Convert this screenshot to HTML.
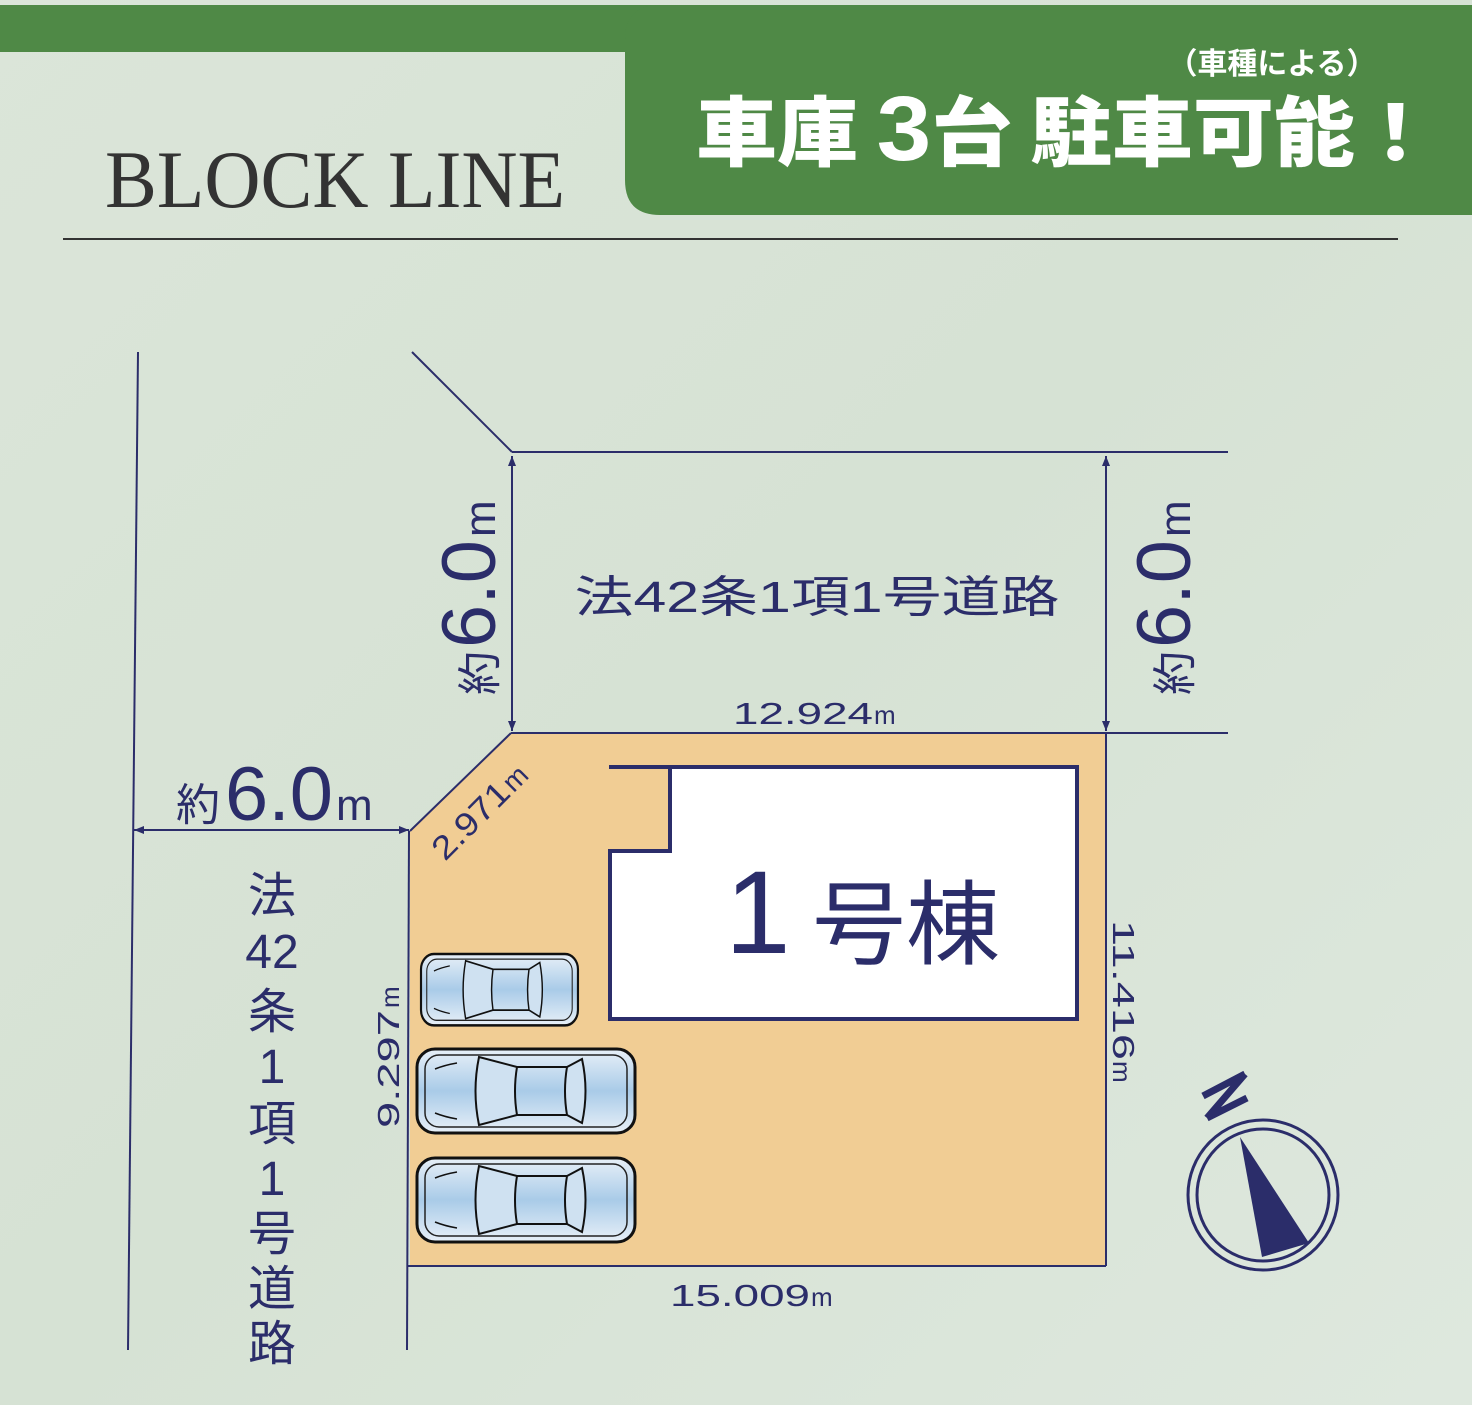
<!DOCTYPE html>
<html><head><meta charset="utf-8"><style>
html,body{margin:0;padding:0;}
body{width:1472px;height:1405px;overflow:hidden;background:#dde6dc;}
svg{display:block}
.n{fill:#2b2d6a;font-family:"Liberation Sans","Noto Sans CJK JP",sans-serif;}
</style></head><body>
<svg width="1472" height="1405" viewBox="0 0 1472 1405" xmlns="http://www.w3.org/2000/svg">
<defs>
<linearGradient id="bg" x1="0" y1="0" x2="1" y2="1">
<stop offset="0" stop-color="#dbe5d9"/><stop offset="0.5" stop-color="#d6e2d4"/><stop offset="1" stop-color="#dee8de"/>
</linearGradient>
<linearGradient id="car" x1="0" y1="0" x2="0" y2="1">
<stop offset="0" stop-color="#e8f0f8"/><stop offset="0.5" stop-color="#a9cbe8"/><stop offset="1" stop-color="#e8f0f8"/>
</linearGradient>
<marker id="ar" viewBox="0 0 10 10" refX="10" refY="5" markerWidth="10" markerHeight="10" orient="auto-start-reverse" markerUnits="userSpaceOnUse">
<path d="M0,1 L10,5 L0,9 Z" fill="#2b2d6a"/>
</marker>
<g id="carS">
<rect x="0" y="0" width="218" height="84" rx="18" fill="url(#car)" stroke="#111" stroke-width="3"/>
<rect x="8" y="6" width="202" height="72" rx="14" fill="none" stroke="#222" stroke-width="1.5"/>
<path d="M62,8 Q55,42 62,76 L100,66 Q96,42 100,18 Z" fill="#cfe1f1" stroke="#111" stroke-width="2"/>
<path d="M165,10 Q172,42 165,74 L150,66 Q146,42 150,18 Z" fill="#cfe1f1" stroke="#111" stroke-width="2"/>
<path d="M100,18 L150,18 M100,66 L150,66" stroke="#111" stroke-width="2"/>
<path d="M18,20 Q28,16 40,14 M18,64 Q28,68 40,70" stroke="#111" stroke-width="1.5" fill="none"/>
</g>
</defs>
<rect width="1472" height="1405" fill="url(#bg)"/>
<rect x="0" y="5" width="1472" height="47" fill="#4f8946"/>
<path d="M660,5 H1472 V215 H660 Q625,215 625,180 V40 Q625,5 660,5 Z" fill="#4f8946"/>
<text x="1272" y="74" fill="#fff" font-family="'Noto Sans CJK JP',sans-serif" font-weight="bold" font-size="30" text-anchor="middle">（車種による）</text>
<text x="1066" y="160" fill="#fff" font-family="'Noto Sans CJK JP',sans-serif" font-weight="900" font-size="76" text-anchor="middle" textLength="740" lengthAdjust="spacingAndGlyphs">車庫 <tspan font-family="'Liberation Sans',sans-serif" font-size="92">3</tspan>台 駐車可能！</text>
<text x="105" y="207" fill="#333" font-family="'Liberation Serif',serif" font-size="82" textLength="460" lengthAdjust="spacingAndGlyphs">BLOCK LINE</text>
<rect x="63" y="238" width="1335" height="2" fill="#333"/>

<path d="M511,733 H1106 V1266 H410 V831 Z" fill="#f1cd94"/>
<g stroke="#2b2d6a" stroke-width="2" fill="none">
<line x1="138" y1="352" x2="128" y2="1350"/>
<line x1="412" y1="352" x2="512" y2="452"/>
<line x1="512" y1="452" x2="1228" y2="452"/>
<line x1="511" y1="733" x2="1228" y2="733"/>
<line x1="511" y1="733" x2="410" y2="831"/>
<line x1="409" y1="831" x2="407" y2="1350"/>
<line x1="407" y1="1266" x2="1106" y2="1266"/>
<line x1="1106" y1="733" x2="1106" y2="1266"/>
<line x1="512" y1="456" x2="512" y2="731" marker-start="url(#ar)" marker-end="url(#ar)"/>
<line x1="1106" y1="456" x2="1106" y2="731" marker-start="url(#ar)" marker-end="url(#ar)"/>
<line x1="134" y1="830" x2="409" y2="830" marker-start="url(#ar)" marker-end="url(#ar)"/>
</g>
<path d="M670,767 H1077 V1019 H610 V851 H670 Z" fill="#fff" stroke="#2b2d6a" stroke-width="4"/>
<line x1="609" y1="767" x2="672" y2="767" stroke="#2b2d6a" stroke-width="4"/>
<text class="n" x="725" y="953" font-size="118">1</text>
<text class="n" x="812" y="957" font-size="92" textLength="188" lengthAdjust="spacingAndGlyphs">号棟</text>

<g transform="translate(421,954) scale(0.72,0.85)"><use href="#carS"/></g>
<use href="#carS" x="417" y="1049"/>
<use href="#carS" x="417" y="1158"/>

<text class="n" x="817" y="612" font-size="44" text-anchor="middle" textLength="485" lengthAdjust="spacingAndGlyphs">法42条1項1号道路</text>
<text class="n" x="733" y="724" font-size="31" textLength="140" lengthAdjust="spacingAndGlyphs">12.924</text><text class="n" x="874" y="724" font-size="26">m</text>
<text class="n" x="670" y="1306" font-size="31" textLength="140" lengthAdjust="spacingAndGlyphs">15.009</text><text class="n" x="811" y="1306" font-size="26">m</text>
<g transform="translate(399,1128) rotate(-90)"><text class="n" x="0" y="0" font-size="31" textLength="118" lengthAdjust="spacingAndGlyphs">9.297</text><text class="n" x="120" y="0" font-size="26">m</text></g>
<g transform="translate(1113,920) rotate(90)"><text class="n" x="0" y="0" font-size="31" textLength="140" lengthAdjust="spacingAndGlyphs">11.416</text><text class="n" x="141" y="0" font-size="26">m</text></g>
<g transform="translate(445,862) rotate(-45)"><text class="n" x="0" y="0" font-size="33" textLength="95" lengthAdjust="spacingAndGlyphs">2.971</text><text class="n" x="97" y="0" font-size="28">m</text></g>

<text class="n" x="176" y="820" font-size="44">約</text>
<text class="n" x="225" y="820" font-size="76" textLength="108" lengthAdjust="spacingAndGlyphs">6.0</text>
<text class="n" x="336" y="820" font-size="44">m</text>
<g transform="translate(495,695) rotate(-90)">
<text class="n" x="0" y="0" font-size="44">約</text>
<text class="n" x="47" y="0" font-size="76" textLength="108" lengthAdjust="spacingAndGlyphs">6.0</text>
<text class="n" x="158" y="0" font-size="44">m</text>
</g>
<g transform="translate(1190,695) rotate(-90)">
<text class="n" x="0" y="0" font-size="44">約</text>
<text class="n" x="47" y="0" font-size="76" textLength="108" lengthAdjust="spacingAndGlyphs">6.0</text>
<text class="n" x="158" y="0" font-size="44">m</text>
</g>

<g font-size="48" text-anchor="middle">
<text class="n" x="272" y="912">法</text>
<text class="n" x="272" y="968">42</text>
<text class="n" x="272" y="1028">条</text>
<text class="n" x="272" y="1083">1</text>
<text class="n" x="272" y="1140">項</text>
<text class="n" x="272" y="1195">1</text>
<text class="n" x="272" y="1250">号</text>
<text class="n" x="272" y="1305">道</text>
<text class="n" x="272" y="1360">路</text>
</g>

<g stroke="#2b2d6a" stroke-width="3" fill="none">
<circle cx="1263" cy="1195" r="75"/>
<circle cx="1263" cy="1195" r="66"/>
</g>
<path d="M1240,1137 L1309,1243 L1262,1257 Z" fill="#2b2d6a"/>
<path d="M1203,1096 L1245,1074 M1245,1074 L1207,1118 M1207,1118 L1247,1098" stroke="#2b2d6a" stroke-width="7" fill="none" stroke-linejoin="miter"/>
</svg>
</body></html>
